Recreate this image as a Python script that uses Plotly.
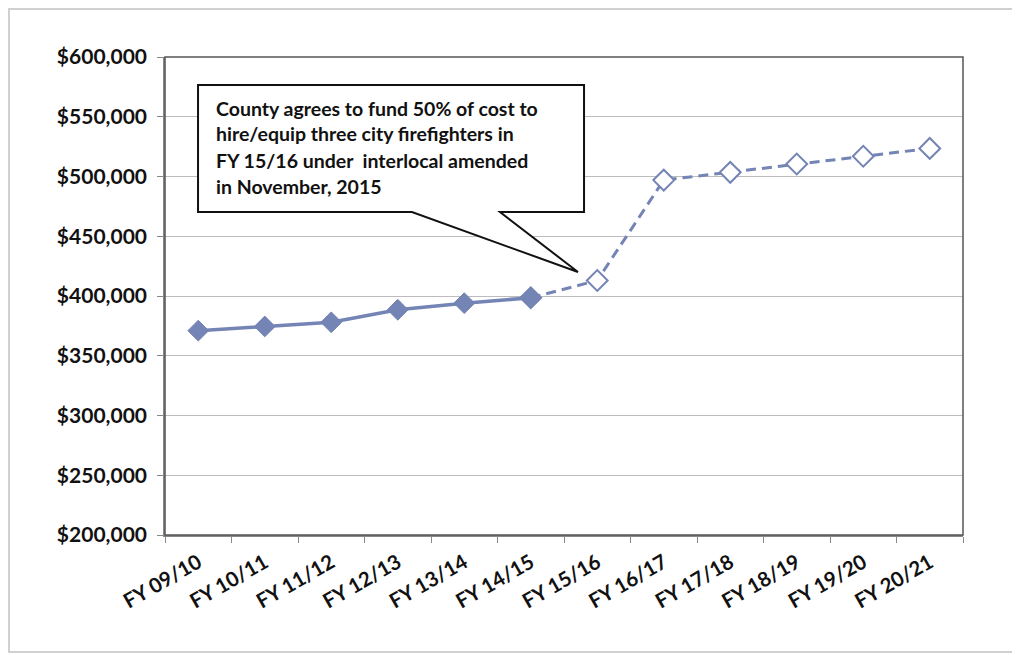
import plotly.graph_objects as go

categories = ["FY 09/10", "FY 10/11", "FY 11/12", "FY 12/13", "FY 13/14", "FY 14/15",
              "FY 15/16", "FY 16/17", "FY 17/18", "FY 18/19", "FY 19/20", "FY 20/21"]
actual_values = [371000, 374500, 378000, 388500, 394000, 398500]
projected_values = [398500, 413000, 497000, 503500, 510500, 517000, 523500]
y_ticks = [200000, 250000, 300000, 350000, 400000, 450000, 500000, 550000, 600000]
note_lines = ["County agrees to fund 50% of cost to",
              "hire/equip three city firefighters in",
              "FY 15/16 under  interlocal amended",
              "in November, 2015"]

line_color = "#7484B4"
FONT = "Lato"

fig = go.Figure()
fig.add_trace(go.Scatter(
    x=categories[5:], y=projected_values, mode="lines+markers",
    line=dict(color=line_color, width=3, dash="10px,6px"),
    marker=dict(symbol="diamond", size=16, color="white",
                line=dict(color=line_color, width=2)),
    showlegend=False, cliponaxis=False))
fig.add_trace(go.Scatter(
    x=categories[:6], y=actual_values, mode="lines+markers",
    line=dict(color=line_color, width=3.5),
    marker=dict(symbol="diamond", size=16, color=line_color,
                line=dict(color=line_color, width=1)),
    showlegend=False, cliponaxis=False))

OFF = 8  # page body margin
W, H = 1020 - OFF, 655 - OFF
L, T = 165 - OFF, 57 - OFF
PR, PB = 963 - OFF, 535 - OFF
R, B = W - PR, H - PB
pw, ph = PR - L, PB - T

def px(x):
    return (x - OFF - L) / pw

def py(y):
    return (PB - (y - OFF)) / ph

# callout box
pts = [(198, 85), (584, 85), (584, 212), (500, 212), (578, 272), (412, 212), (198, 212)]
path = "M " + " L ".join(f"{px(a):.4f},{py(b):.4f}" for a, b in pts) + " Z"
shapes = [
    dict(type="path", path=path, xref="paper", yref="paper",
         fillcolor="white", line=dict(color="#111", width=2), layer="above"),
    # plot frame
    dict(type="rect", xref="paper", yref="paper", x0=0, x1=1, y0=0, y1=1,
         line=dict(color="#555", width=1.5), layer="above"),
    # outer chart border
    dict(type="rect", xref="paper", yref="paper",
         x0=px(9), x1=px(1030), y0=py(652), y1=py(9),
         line=dict(color="#d0d0d0", width=2)),
]

annotations = []
line_y = [109, 134, 160, 186]
for txt, yy in zip(note_lines, line_y):
    annotations.append(dict(
        text=txt, xref="paper", yref="paper", x=px(214), y=py(yy),
        xanchor="left", yanchor="middle", showarrow=False,
        font=dict(family=FONT, size=19.5, color="#111", weight="bold")))

fig.update_layout(
    width=W, height=H, margin=dict(l=L, r=R, t=T, b=B),
    paper_bgcolor="white", plot_bgcolor="white",
    shapes=shapes, annotations=annotations,
    xaxis=dict(type="category", categoryorder="array", categoryarray=categories,
               range=[-0.5, 11.5], tickson="boundaries", ticks="outside",
               ticklen=6, tickcolor="#888", showline=True, linecolor="#888",
               linewidth=1.5, showgrid=False, tickangle=-30, ticklabelstandoff=6,
               tickfont=dict(family=FONT, size=20.5, color="#111", weight="bold")),
    yaxis=dict(range=[200000, 600000], tickvals=y_ticks,
               ticktext=[f"${v:,.0f}" for v in y_ticks], ticks="outside",
               ticklen=6, tickcolor="#888", showline=True, linecolor="#888",
               linewidth=1.5, showgrid=True, gridcolor="#bcbcbc", gridwidth=1,
               zeroline=False, ticklabelstandoff=6,
               tickfont=dict(family=FONT, size=21, color="#111", weight="bold")),
)

fig.write_html("out.html")
